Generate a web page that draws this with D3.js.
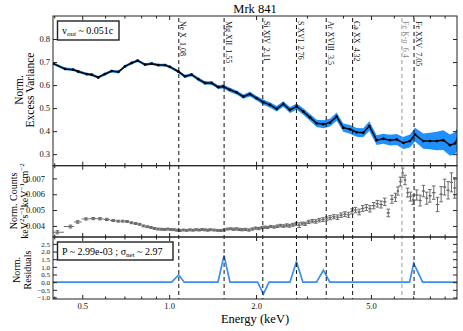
<!DOCTYPE html>
<html>
<head>
<meta charset="utf-8">
<script src="https://cdn.jsdelivr.net/npm/d3@7"></script>
<style>
  body { margin: 0; background: #fff; }
  svg { font-family: "Liberation Serif", "DejaVu Serif", serif; }
</style>
</head>
<body>
<div id="viz"></div>
<script>
// Top panel: normalised excess variance
const topE = [0.397,0.436,0.465,0.484,0.518,0.539,0.568,0.599,0.632,0.667,
  0.703,0.742,0.778,0.825,0.870,0.917,0.967,1.006,1.075,1.134,
  1.196,1.261,1.331,1.403,1.480,1.540,1.624,1.713,1.806,1.905,
  2.009,2.118,2.235,2.357,2.485,2.621,2.765,2.914,3.074,3.243,
  3.419,3.606,3.804,4.009,4.230,4.462,4.703,4.933,5.233,5.515,
  5.818,6.138,6.470,6.825,7.103,7.587,8.008,8.447,8.902,9.389,
  9.773,10.0];
const topV = [0.693,0.670,0.667,0.659,0.648,0.645,0.633,0.648,0.661,0.657,
  0.681,0.696,0.706,0.689,0.693,0.687,0.687,0.679,0.659,0.638,
  0.645,0.626,0.609,0.609,0.591,0.594,0.579,0.568,0.550,0.561,
  0.543,0.526,0.514,0.497,0.518,0.492,0.507,0.485,0.460,0.434,
  0.430,0.437,0.463,0.415,0.408,0.395,0.393,0.422,0.361,0.367,
  0.361,0.364,0.349,0.357,0.385,0.357,0.357,0.357,0.361,0.339,
  0.347,0.370];
const topErr = [0.006,0.006,0.006,0.006,0.006,0.006,0.006,0.006,0.006,0.006,
  0.006,0.006,0.006,0.006,0.006,0.006,0.006,0.006,0.007,0.007,
  0.007,0.008,0.008,0.008,0.008,0.009,0.009,0.009,0.009,0.010,
  0.010,0.011,0.011,0.012,0.012,0.013,0.013,0.014,0.015,0.016,
  0.017,0.017,0.018,0.018,0.019,0.019,0.020,0.021,0.021,0.022,
  0.023,0.024,0.026,0.028,0.030,0.033,0.036,0.040,0.043,0.046,
  0.048,0.050];

// Middle panel: normalised counts spectrum
const midE = [0.41,0.455,0.482,0.515,0.546,0.576,0.608,0.64,0.666,0.69,0.715,0.74,0.765,0.79,0.815,0.84,0.865,0.89,0.915,0.94,0.965,0.99,
  1.015,1.04,1.065,1.09,1.12,1.15,1.18,1.21,1.24,1.27,1.30,1.33,1.36,1.39,1.43,1.47,1.51,1.55,1.59,1.63,1.67,1.71,1.75,1.79,1.84,1.89,1.94,1.99,2.04,2.09,2.14,2.19,2.25,2.31,2.37,2.43,2.49,2.55,2.61,2.68,2.75,2.82,2.89,2.96,
  3.04,3.13,3.22,3.31,3.41,3.51,3.61,3.72,3.83,3.94,4.06,4.18,4.30,4.42,4.55,4.68,4.82,4.96,5.11,5.26,5.42,5.58,5.74,5.91,6.08,6.20,6.32,6.44,6.56,6.70,6.85,7.00,7.20,7.40,7.60,7.80,8.00,8.25,8.50,8.75,9.00,9.25,9.50,9.75];
const midV = [0.00360,0.00396,0.00425,0.00444,0.00446,0.00445,0.00441,0.00434,0.00430,0.00430,0.00428,0.00420,0.00415,0.00410,0.00400,0.00395,0.00390,0.00384,0.00380,0.00379,0.00378,0.00380,
  0.00377,0.00376,0.00373,0.00371,0.00374,0.00372,0.00375,0.00373,0.00376,0.00374,0.00377,0.00375,0.00373,0.00376,0.00374,0.00372,0.00371,0.00374,0.00380,0.00382,
  0.00379,0.00381,0.00378,0.00376,0.00378,0.00374,0.00380,0.00386,0.00383,0.00388,0.00392,0.00390,0.00396,0.00393,0.00398,0.00402,0.00399,0.00404,0.00401,0.00407,
  0.00412,0.00405,0.00415,0.00413,
  0.00425,0.00430,0.00428,0.00436,0.00440,0.00445,0.00452,0.00458,0.00455,0.00468,0.00474,0.00470,0.00492,0.00500,0.00488,0.00510,0.00516,0.00508,
  0.00528,0.00540,0.00535,0.00552,0.00482,0.00568,0.00580,0.00620,0.00680,0.00735,0.00690,0.00610,0.00585,0.00565,
  0.00595,0.00560,0.00620,0.00575,0.00590,0.00610,0.00535,0.00600,0.00645,0.00625,0.00675,0.00640];
const midErr = [0.00010,0.00009,0.00008,0.00007,0.00007,0.00007,0.00007,0.00006,0.00006,0.00006,0.00006,0.00006,0.00006,0.00006,0.00006,0.00006,0.00006,0.00006,0.00006,0.00006,0.00006,0.00006,
  0.00006,0.00006,0.00006,0.00006,0.00006,0.00006,0.00006,0.00006,0.00006,0.00006,0.00006,0.00006,0.00006,0.00006,0.00006,0.00006,0.00006,0.00006,0.00006,0.00006,
  0.00007,0.00007,0.00007,0.00007,0.00007,0.00007,0.00007,0.00007,0.00007,0.00007,0.00007,0.00007,0.00007,0.00007,0.00008,0.00008,0.00008,0.00009,0.00009,0.00009,
  0.00009,0.00015,0.00009,0.00010,
  0.00010,0.00010,0.00011,0.00011,0.00012,0.00012,0.00013,0.00013,0.00014,0.00014,0.00015,0.00016,0.00016,0.00017,0.00018,0.00018,0.00019,0.00020,
  0.00020,0.00021,0.00022,0.00023,0.00024,0.00025,0.00026,0.00026,0.00028,0.00030,0.00030,0.00028,0.00028,0.00030,
  0.00032,0.00034,0.00036,0.00038,0.00040,0.00042,0.00045,0.00048,0.00050,0.00055,0.00060,0.00065];

// Bottom panel: normalised residuals
const resE = [0.396,1.02,1.079,1.128,1.476,1.549,1.624,2.024,2.12,2.218,2.62,2.76,2.905,3.24,3.42,3.6,6.8,7.03,7.55,9.93];
const resV = [0,0,0.47,0,0,1.75,0,0,-0.78,0,0,1.34,0,0,0.78,0,0,1.23,0,0];

// Emission line markers
const lineNames = ["Ne X", "Mg XII", "Si XIV", "S XVI", "Ar XVIII", "Ca XX", "Fe K-\u03b1", "Fe XXV"];
const lineE = [1.08, 1.55, 2.11, 2.76, 3.5, 4.32, 6.4, 7.05];
const lineLabels = ["1.08", "1.55", "2.11", "2.76", "3.5", "4.32", "6.4", "7.05"];

// Tick values
const xLabelTicks = [0.5, 1.0, 2.0, 5.0];
const topTicks = [0.3, 0.4, 0.5, 0.6, 0.7, 0.8];
const midTicks = [0.004, 0.005, 0.006, 0.007];
const resTicks = [-1.0, -0.5, 0.0, 0.5, 1.0, 1.5, 2.0, 2.5];

const width = 463, height = 331;
const L = 53, R = 457;
const p1 = { top: 16, bottom: 165.7 };
const p2 = { top: 165.7, bottom: 237 };
const p3 = { top: 237, bottom: 299 };

const svg = d3.select("#viz").append("svg")
  .attr("width", width)
  .attr("height", height)
  .style("background", "#fff");

const x = d3.scaleLog().domain([0.396, 9.93]).range([L, R]);
const yTop = d3.scaleLinear().domain([0.25, 0.9]).range([p1.bottom, p1.top]);
const yMid = d3.scaleLinear().domain([0.0033, 0.0078]).range([p2.bottom, p2.top]);
const yRes = d3.scaleLinear().domain([-1.1, 2.95]).range([p3.bottom, p3.top]);

// clip paths per panel
const defs = svg.append("defs");
[p1, p2, p3].forEach((p, i) => {
  defs.append("clipPath").attr("id", "clip" + i)
    .append("rect").attr("x", L).attr("y", p.top)
    .attr("width", R - L).attr("height", p.bottom - p.top);
});

// ---- top panel
const topData = topE.map((e, i) => ({ e, v: topV[i], err: topErr[i] }));
const gTop = svg.append("g").attr("clip-path", "url(#clip0)");
gTop.append("path")
  .datum(topData)
  .attr("fill", "#1e90ff")
  .attr("d", d3.area().x(d => x(d.e)).y0(d => yTop(d.v - d.err)).y1(d => yTop(d.v + d.err)));
gTop.append("path")
  .datum(topData)
  .attr("fill", "none")
  .attr("stroke", "#0a0a0a")
  .attr("stroke-width", 1.5)
  .attr("d", d3.line().x(d => x(d.e)).y(d => yTop(d.v)));
gTop.selectAll("circle")
  .data(topData)
  .enter().append("circle")
  .attr("cx", d => x(d.e))
  .attr("cy", d => yTop(d.v))
  .attr("r", 1.4)
  .attr("fill", "#000");

// ---- middle panel
const midData = midE.map((e, i) => {
  const lo = i > 0 ? Math.sqrt(midE[i - 1] * e) : e / Math.sqrt(midE[1] / e);
  const hi = i < midE.length - 1 ? Math.sqrt(midE[i + 1] * e) : e * Math.sqrt(e / midE[i - 1]);
  return { e, v: midV[i], err: midErr[i], lo, hi };
});
const gMid = svg.append("g").attr("clip-path", "url(#clip1)")
  .attr("stroke", "#6a6a6a").attr("stroke-width", 1).attr("fill", "none");
const pts = gMid.selectAll("g").data(midData).enter().append("g");
pts.append("line")
  .attr("x1", d => x(d.lo)).attr("x2", d => x(d.hi))
  .attr("y1", d => yMid(d.v)).attr("y2", d => yMid(d.v));
pts.append("line")
  .attr("x1", d => x(d.e)).attr("x2", d => x(d.e))
  .attr("y1", d => yMid(d.v - d.err)).attr("y2", d => yMid(d.v + d.err));
pts.append("line")
  .attr("x1", d => x(d.e) - 1.8).attr("x2", d => x(d.e) + 1.8)
  .attr("y1", d => yMid(d.v - d.err)).attr("y2", d => yMid(d.v - d.err));
pts.append("line")
  .attr("x1", d => x(d.e) - 1.8).attr("x2", d => x(d.e) + 1.8)
  .attr("y1", d => yMid(d.v + d.err)).attr("y2", d => yMid(d.v + d.err));
pts.append("circle")
  .attr("cx", d => x(d.e)).attr("cy", d => yMid(d.v))
  .attr("r", 1).attr("fill", "#6a6a6a").attr("stroke", "none");

// ---- bottom panel
const resData = resE.map((e, i) => ({ e, v: resV[i] }));
svg.append("g").attr("clip-path", "url(#clip2)")
  .append("path")
  .datum(resData)
  .attr("fill", "none")
  .attr("stroke", "#3a8ef0")
  .attr("stroke-width", 1.7)
  .attr("d", d3.line().x(d => x(d.e)).y(d => yRes(d.v)));

// ---- vertical line markers
const lines = lineE.map((e, i) => ({ e, name: lineNames[i], lab: lineLabels[i], grey: lineNames[i] === "Fe K-\u03b1" }));
svg.selectAll(".vline")
  .data(lines)
  .enter().append("line")
  .attr("class", "vline")
  .attr("x1", d => x(d.e)).attr("x2", d => x(d.e))
  .attr("y1", p1.top + 2).attr("y2", p3.bottom)
  .attr("stroke", d => d.grey ? "#9a9a9a" : "#111")
  .attr("stroke-width", 1)
  .attr("stroke-dasharray", "4,3");
svg.selectAll(".vlab")
  .data(lines)
  .enter().append("text")
  .attr("class", "vlab")
  .attr("transform", d => `translate(${x(d.e) + 1.5},21) rotate(90)`)
  .attr("font-size", 8)
  .attr("fill", d => d.grey ? "#8a8a8a" : "#111")
  .attr("xml:space", "preserve")
  .text(d => d.name + "  " + d.lab);

// ---- axes / frames
function frame(p, y, yt, pad, fs, fmt) {
  svg.append("rect")
    .attr("x", L).attr("y", p.top)
    .attr("width", R - L).attr("height", p.bottom - p.top)
    .attr("fill", "none").attr("stroke", "#222").attr("stroke-width", 1);

  const minor = x.ticks().filter(t => !xLabelTicks.includes(t));
  [[d3.axisBottom, p.bottom], [d3.axisTop, p.top]].forEach(([ax, yy]) => {
    svg.append("g").attr("transform", `translate(0,${yy})`)
      .call(ax(x).tickValues(minor).tickSize(-2.5).tickFormat(""))
      .call(g => g.select(".domain").remove());
    svg.append("g").attr("transform", `translate(0,${yy})`)
      .call(ax(x).tickValues(xLabelTicks).tickSize(-4).tickFormat(""))
      .call(g => g.select(".domain").remove());
  });

  svg.append("g").attr("transform", `translate(${L},0)`)
    .call(d3.axisLeft(y).tickValues(yt).tickSize(-4).tickPadding(pad).tickFormat(d3.format(fmt)))
    .call(g => g.select(".domain").remove())
    .call(g => g.selectAll("text").attr("font-size", fs).attr("fill", "#111")
      .style("font-family", "Liberation Serif, serif"));
  svg.append("g").attr("transform", `translate(${R},0)`)
    .call(d3.axisRight(y).tickValues(yt).tickSize(-4).tickFormat(""))
    .call(g => g.select(".domain").remove());
}
frame(p1, yTop, topTicks, 3, 8.5, ".1f");
frame(p2, yMid, midTicks, 8, 8.5, ".3f");
frame(p3, yRes, resTicks, 3, 7, ".1f");

svg.append("g").attr("transform", `translate(0,${p3.bottom})`)
  .call(d3.axisBottom(x).tickValues(xLabelTicks).tickSize(0).tickPadding(4).tickFormat(d3.format(".1f")))
  .call(g => g.select(".domain").remove())
  .call(g => g.selectAll("text").attr("font-size", 8.5).attr("fill", "#111")
    .style("font-family", "Liberation Serif, serif"));

svg.selectAll(".tick line").attr("stroke", "#222");

// ---- titles and labels
svg.append("text").attr("x", (L + R) / 2).attr("y", 13)
  .attr("text-anchor", "middle").attr("font-size", 12.5).text("Mrk 841");
svg.append("text").attr("x", (L + R) / 2).attr("y", 323)
  .attr("text-anchor", "middle").attr("font-size", 12.5).text("Energy (keV)");

function ylab(xpos, ycen, size, build) {
  const t = svg.append("text")
    .attr("transform", `translate(${xpos},${ycen}) rotate(-90)`)
    .attr("text-anchor", "middle").attr("font-size", size);
  build(t);
}
ylab(22.5, 90, 11.5, t => t.text("Norm."));
ylab(34, 90, 11.5, t => t.text("Excess Variance"));
ylab(17, 201, 10, t => t.text("Norm. Counts"));
ylab(28, 201, 10, t => {
  const parts = [["keV", ""], ["2", "s"], ["s", ""], ["\u22121", "s"], ["keV", ""], ["\u22121", "s"], ["cm", ""], ["\u22122", "s"]];
  parts.forEach(([s, k]) => {
    const sp = t.append("tspan").text(s);
    if (k === "s") sp.attr("font-size", 7).attr("dy", -4);
    else sp.attr("dy", 4);
  });
  t.select("tspan").attr("dy", 0);
});
ylab(20, 270, 10, t => t.text("Norm."));
ylab(31, 270, 10, t => t.text("Residuals"));

// legend boxes
svg.append("rect").attr("x", 57.5).attr("y", 21).attr("width", 61.5).attr("height", 19)
  .attr("fill", "#fff").attr("stroke", "#222").attr("stroke-width", 1.4);
const t1 = svg.append("text").attr("x", 62).attr("y", 34).attr("font-size", 10);
t1.append("tspan").text("v");
t1.append("tspan").attr("font-size", 7).attr("font-style", "italic").attr("dy", 2).text("out");
t1.append("tspan").attr("dy", -2).text(" ~ 0.051c");

svg.append("rect").attr("x", 57.5).attr("y", 242).attr("width", 115.5).attr("height", 18)
  .attr("fill", "#fff").attr("stroke", "#222").attr("stroke-width", 1.4);
const t2 = svg.append("text").attr("x", 62).attr("y", 255).attr("font-size", 10);
t2.append("tspan").text("P ~ 2.99e-03 ; \u03c3");
t2.append("tspan").attr("font-size", 7).attr("dy", 2).text("net");
t2.append("tspan").attr("dy", -2).text(" ~ 2.97");
</script>
</body>
</html>
